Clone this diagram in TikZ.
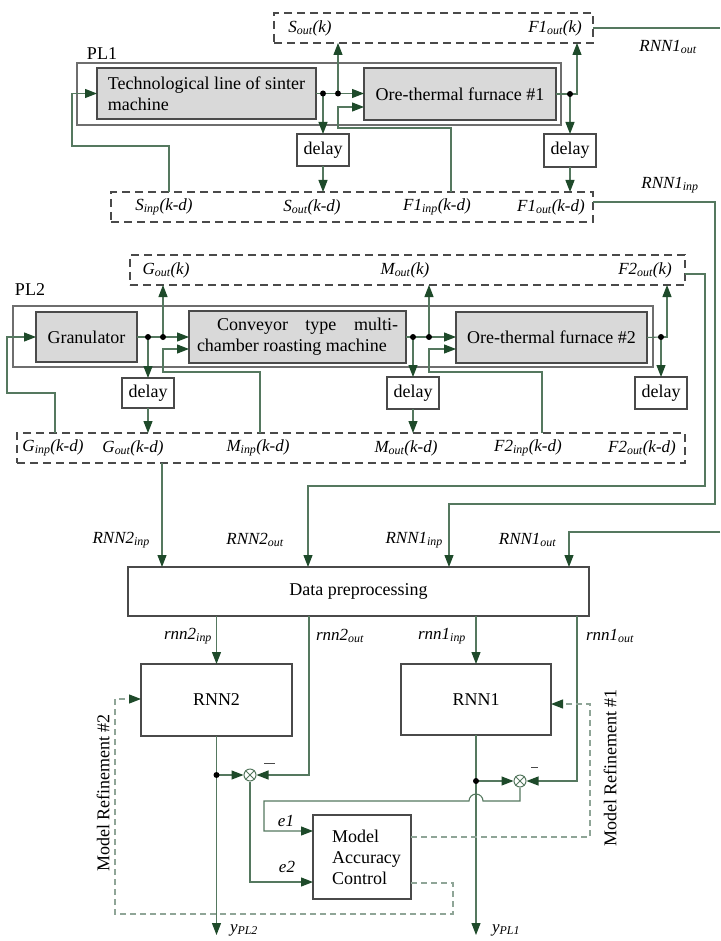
\documentclass[tikz,border=0pt]{standalone}
\usepackage{fontspec}
\setmainfont{Liberation Serif}
\usetikzlibrary{arrows.meta}
\definecolor{lg}{HTML}{55785F}
\definecolor{ag}{HTML}{1E4A2A}
\definecolor{dg}{HTML}{8FA597}
\definecolor{bx}{HTML}{4A4A4A}
\definecolor{fg}{HTML}{D9D9D9}
\newcommand{\sbx}[1]{\textsubscript{#1}}
\begin{document}
\begin{tikzpicture}[x=1pt,y=-1pt,
  font=\fontsize{18}{21}\selectfont,
  conn/.style={draw=lg,line width=1.1pt},
  arr/.style={conn,-{Triangle[length=12pt,width=9pt,color=ag,fill=ag]}},
  refl/.style={draw=dg,line width=1.2pt,dash pattern=on 6pt off 4pt},
  refarr/.style={refl,-{Triangle[length=12pt,width=9pt,color=ag,fill=ag]}},
  boxbase/.style={inner sep=0pt,outer sep=0pt},
  gbox/.style={boxbase,draw=bx,fill=fg,line width=1.3pt},
  wbox/.style={boxbase,draw=bx,fill=white,line width=1.2pt},
  frame/.style={boxbase,draw=bx!80,line width=1.3pt},
  dbox/.style={boxbase,draw=bx,line width=1.3pt,dash pattern=on 8pt off 5pt},
  lbl/.style={inner sep=0pt,font=\fontsize{17}{20}\selectfont\itshape},
  sumc/.style={circle,draw=lg,fill=white,line width=1pt,minimum size=12pt,inner sep=0pt},
]
\useasboundingbox (0,0) rectangle (720,941);

% ---------- PL1 ----------
\node[frame,minimum width=484pt,minimum height=62pt] (pl1) at (319,94) {};
\node[inner sep=0pt] (pl1l) at (102,54) {PL1};
\node[dbox,minimum width=319pt,minimum height=30pt] (top1) at (433.5,28) {};
\node[dbox,minimum width=482pt,minimum height=30pt] (bot1) at (352,207) {};
\node[gbox,minimum width=219pt,minimum height=51pt,align=left] (tech) at (206.5,93.5) {Technological line of sinter\\machine};
\node[gbox,minimum width=192pt,minimum height=52pt] (fur1) at (460,94) {Ore-thermal furnace \#1};
\node[wbox,minimum width=52pt,minimum height=32pt] (dl1a) at (323,150) {delay};
\node[wbox,minimum width=52pt,minimum height=33pt] (dl1b) at (570,150.5) {delay};

\node[lbl] (lsoutk) at (310,28) {S\sbx{out}(k)};
\node[lbl] (lf1outk) at (555,28) {F1\sbx{out}(k)};
\node[lbl] (lsinp) at (164,207) {S\sbx{inp}(k-d)};
\node[lbl] (lsoutd) at (312,207) {S\sbx{out}(k-d)};
\node[lbl] (lf1inp) at (437,207) {F1\sbx{inp}(k-d)};
\node[lbl] (lf1outd) at (551,207) {F1\sbx{out}(k-d)};
\node[lbl] (lr1out) at (668,47) {RNN1\sbx{out}};
\node[lbl] (lr1inp) at (670,185) {RNN1\sbx{inp}};

\coordinate (d1a) at (323,93.5);
\coordinate (d1b) at (338,93.5);
\coordinate (d1c) at (570,94);
\coordinate (rout) at (720,28);

\draw[conn] (tech.east) -- (d1a);
\draw[arr] (d1a) -- (fur1.west |- d1a);
\draw[arr] (d1a) -- (dl1a.north);
\draw[arr] (dl1a.south) -- (dl1a.south |- bot1.north);
\draw[arr] (d1b) -- (d1b |- top1.south);
\draw[arr] (bot1.north -| 451,0) |- (338,128) |- (fur1.west |- 0,107);
\draw[arr] (bot1.north -| 169,0) |- (72,146) |- (tech.west);
\draw[conn] (fur1.east) -- (d1c);
\draw[arr] (d1c) -| (top1.south -| 577,0);
\draw[arr] (d1c) -- (dl1b.north);
\draw[arr] (dl1b.south) -- (dl1b.south |- bot1.north);
\draw[conn] (top1.east) -- (rout);

% ---------- PL2 ----------
\node[frame,minimum width=640pt,minimum height=61pt] (pl2) at (333,336.5) {};
\node[inner sep=0pt] (pl2l) at (30,290) {PL2};
\node[dbox,minimum width=555pt,minimum height=30pt] (top2) at (407.5,270) {};
\node[dbox,minimum width=668pt,minimum height=30pt] (bot2) at (351,448) {};
\node[gbox,minimum width=101pt,minimum height=50pt] (gran) at (86.5,337) {Granulator};
\node[gbox,minimum width=217pt,minimum height=52pt,align=left] (conv) at (297.5,337) {\hspace*{20pt}\makebox[181pt][s]{Conveyor type multi-}\\chamber roasting machine};
\node[gbox,minimum width=191pt,minimum height=51pt] (fur2) at (551.5,337.5) {Ore-thermal furnace \#2};
\node[wbox,minimum width=52pt,minimum height=30pt] (dl2a) at (148,393) {delay};
\node[wbox,minimum width=52pt,minimum height=32pt] (dl2b) at (413,393) {delay};
\node[wbox,minimum width=52pt,minimum height=32pt] (dl2c) at (661,393) {delay};

\node[lbl] (lgoutk) at (166,270) {G\sbx{out}(k)};
\node[lbl] (lmoutk) at (405,270) {M\sbx{out}(k)};
\node[lbl] (lf2outk) at (645,270) {F2\sbx{out}(k)};
\node[lbl] (lginp) at (53,448) {G\sbx{inp}(k-d)};
\node[lbl] (lgoutd) at (133,448) {G\sbx{out}(k-d)};
\node[lbl] (lminp) at (258,448) {M\sbx{inp}(k-d)};
\node[lbl] (lmoutd) at (406,448) {M\sbx{out}(k-d)};
\node[lbl] (lf2inp) at (528,448) {F2\sbx{inp}(k-d)};
\node[lbl] (lf2outd) at (642,448) {F2\sbx{out}(k-d)};

\coordinate (d2a) at (148,337);
\coordinate (d2b) at (163,337);
\coordinate (d2c) at (413,337);
\coordinate (d2d) at (429,337);
\coordinate (d2e) at (661,337);

\draw[conn] (gran.east) -- (d2a);
\draw[arr] (d2a) -- (conv.west |- d2a);
\draw[arr] (d2a) -- (dl2a.north);
\draw[arr] (dl2a.south) -- (dl2a.south |- bot2.north);
\draw[arr] (d2b) -- (d2b |- top2.south);
\draw[arr] (bot2.north -| 260,0) |- (163,372) |- (conv.west |- 0,349);
\draw[arr] (bot2.north -| 55,0) |- (7,393) |- (gran.west);
\draw[conn] (conv.east) -- (d2c);
\draw[arr] (d2c) -- (fur2.west |- d2c);
\draw[arr] (d2c) -- (dl2b.north);
\draw[arr] (dl2b.south) -- (dl2b.south |- bot2.north);
\draw[arr] (d2d) -- (d2d |- top2.south);
\draw[arr] (bot2.north -| 542,0) |- (429,372) |- (fur2.west |- 0,349);
\draw[conn] (fur2.east) -- (d2e);
\draw[arr] (d2e) -| (top2.south -| 667,0);
\draw[arr] (d2e) -- (dl2c.north);

% ---------- Data preprocessing ----------
\node[wbox,minimum width=461pt,minimum height=49pt] (dp) at (358.5,591.5) {Data preprocessing};
\node[lbl,anchor=east] (lr2inp) at (150,540) {RNN2\sbx{inp}};
\node[lbl] (lr2out) at (255,540) {RNN2\sbx{out}};
\node[lbl,anchor=east] (lr1inpb) at (443,540) {RNN1\sbx{inp}};
\node[lbl] (lr1outb) at (527.5,540) {RNN1\sbx{out}};
\coordinate (rin) at (720,532);

\draw[arr] (bot1.east |- 0,202) -| (715,504) -| (dp.north -| 449,0);
\draw[arr] (top2.east |- 0,274) -| (705,486) -| (dp.north -| 308,0);
\draw[arr] (bot2.south -| 162,0) -- (dp.north -| 162,0);
\draw[arr] (rin) -| (dp.north -| 569,0);

% ---------- RNNs ----------
\node[wbox,minimum width=151pt,minimum height=72pt] (rnn2) at (216.5,700) {RNN2};
\node[wbox,minimum width=150pt,minimum height=71pt] (rnn1) at (476,699.5) {RNN1};
\node[wbox,minimum width=98pt,minimum height=84pt,align=left] (mac) at (362,857) {\hspace*{9pt}Model\\\hspace*{9pt}Accuracy\\\hspace*{9pt}Control};
\node[sumc] (sum2) at (250,775) {};
\node[sumc] (sum1) at (520,781) {};
\draw[draw=lg,line width=0.9pt] (sum2.north west) -- (sum2.south east) (sum2.north east) -- (sum2.south west);
\draw[draw=lg,line width=0.9pt] (sum1.north west) -- (sum1.south east) (sum1.north east) -- (sum1.south west);

\node[lbl] (lrn2inp) at (188,636) {rnn2\sbx{inp}};
\node[lbl] (lrn2out) at (340,636) {rnn2\sbx{out}};
\node[lbl] (lrn1inp) at (442,636) {rnn1\sbx{inp}};
\node[lbl] (lrn1out) at (610,636) {rnn1\sbx{out}};
\node[lbl] (le1) at (286,821) {e1};
\node[lbl] (le2) at (287,867) {e2};
\node[lbl] (ly2) at (244,930) {y\sbx{PL2}};
\node[lbl] (ly1) at (506,930) {y\sbx{PL1}};
\node[inner sep=0pt,rotate=90] (mr2) at (103,793) {Model Refinement \#2};
\node[inner sep=0pt,rotate=90] (mr1) at (610,768) {Model Refinement \#1};

\coordinate (dt2) at (216.5,775);
\coordinate (dt1) at (476,781);
\coordinate (out2) at (216.5,935);
\coordinate (out1) at (476,935);

\draw[arr] (dp.south -| rnn2.north) -- (rnn2.north);
\draw[arr] (dp.south -| 309,0) |- (sum2.east);
\draw[arr] (dp.south -| rnn1.north) -- (rnn1.north);
\draw[arr] (dp.south -| 577,0) |- (sum1.east);
\draw[arr] (rnn2.south) -- (out2);
\draw[arr] (rnn1.south) -- (out1);
\draw[arr] (dt2) -- (sum2.west);
\draw[arr] (dt1) -- (sum1.west);
\draw[arr] (sum2.south) |- (mac.west |- 0,882);
\draw[arr] (sum1.south) -- (520,801) -- (483,801) arc[start angle=0,end angle=180,radius=7pt] -- (264,801) |- (mac.west |- 0,831);
\draw[draw=bx,line width=1pt] (264,763) -- (275,763);
\draw[draw=bx,line width=1pt] (531,767) -- (538,767);

\draw[refarr] (mac.east |- 0,883) -| (453,914) -| (115,699) -- (rnn2.west |- 0,699);
\draw[refarr] (mac.east |- 0,837) -| (590,704) -- (rnn1.east |- 0,704);

% dots
\foreach \d in {d1a,d1b,d1c,d2a,d2b,d2c,d2d,d2e,dt2,dt1}
  \fill[black] (\d) circle[radius=3pt];
\end{tikzpicture}
\end{document}
